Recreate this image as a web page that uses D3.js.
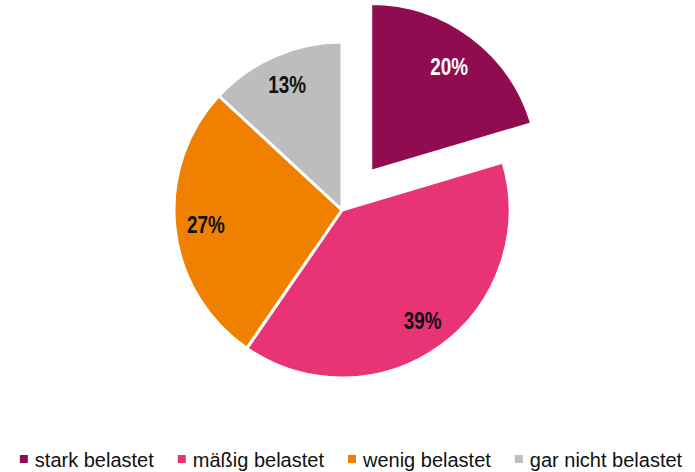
<!DOCTYPE html>
<html>
<head>
<meta charset="utf-8">
<script src="https://cdn.jsdelivr.net/npm/d3@7"></script>
<style>
  html, body { margin: 0; padding: 0; background: #fff; }
  svg { display: block; }
</style>
</head>
<body>
<svg id="chart" width="695" height="472"></svg>
<script>
const categories = ["stark belastet", "mäßig belastet", "wenig belastet", "gar nicht belastet"];
const values = [20.4, 39.2, 27.3, 13.1];
const colors = ["#8E0C4F", "#E83375", "#F08000", "#BDBDBD"];
const labelColors = ["#ffffff", "#111111", "#111111", "#111111"];
const explodedIndex = 0;

const svg = d3.select("#chart");
const cx = 342, cy = 210, r = 168, explode = 48, labelR = 137, labelRExploded = 131;

const data = categories.map((c, i) => ({ cat: c, value: values[i], i }));
const pie = d3.pie().sort(null).value(d => d.value);
const arcs = pie(data);
const arc = d3.arc().innerRadius(0).outerRadius(r);

const g = svg.append("g").attr("transform", `translate(${cx},${cy})`);

function offset(d) {
  if (d.data.i !== explodedIndex) return [0, 0];
  const a = (d.startAngle + d.endAngle) / 2;
  return [Math.sin(a) * explode, -Math.cos(a) * explode];
}

g.selectAll("path.slice")
  .data(arcs)
  .join("path")
  .attr("class", "slice")
  .attr("d", arc)
  .attr("transform", d => `translate(${offset(d)})`)
  .attr("fill", d => colors[d.data.i])
  .attr("stroke", "#fff")
  .attr("stroke-width", 3)
  .attr("stroke-linejoin", "round");

g.selectAll("text.lbl")
  .data(arcs)
  .join("text")
  .attr("class", "lbl")
  .attr("transform", d => {
    const a = (d.startAngle + d.endAngle) / 2;
    const [ox, oy] = offset(d);
    const lr = d.data.i === explodedIndex ? labelRExploded : labelR;
    const x = Math.sin(a) * lr + ox;
    const y = -Math.cos(a) * lr + oy;
    return `translate(${x},${y}) scale(0.82,1)`;
  })
  .attr("text-anchor", "middle")
  .attr("dy", "0.36em")
  .attr("font-family", "'Liberation Sans', Arial, sans-serif")
  .attr("font-weight", "bold")
  .attr("font-size", 23)
  .attr("fill", d => labelColors[d.data.i])
  .text(d => Math.round(d.data.value) + "%");

// Legend
const legend = svg.append("g");
let x = 0;
const gap = 24;
categories.forEach((c, i) => {
  const it = legend.append("g");
  it.append("rect").attr("x", 0).attr("y", -12).attr("width", 8).attr("height", 8).attr("fill", colors[i]);
  const t = it.append("text")
    .attr("x", 15).attr("y", 0)
    .attr("font-family", "'Liberation Sans', Arial, sans-serif")
    .attr("font-size", 20)
    .attr("fill", "#111")
    .text(c);
  const w = 15 + t.node().getComputedTextLength();
  it.attr("transform", `translate(${x},0)`);
  x += w + gap;
});
const totalW = x - gap;
legend.attr("transform", `translate(${351 - totalW / 2},467)`);
</script>
</body>
</html>
